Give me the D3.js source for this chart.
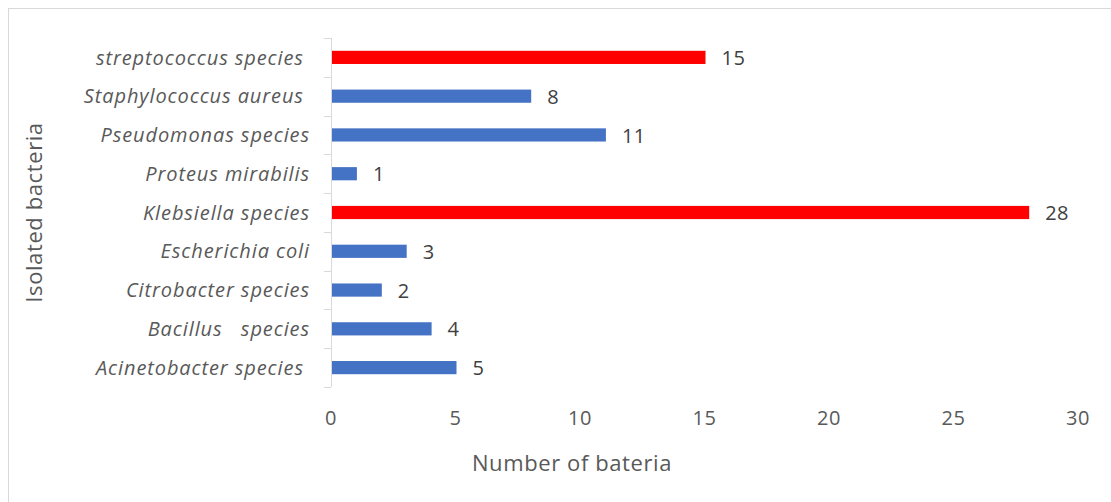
<!DOCTYPE html>
<html>
<head>
<meta charset="utf-8">
<script src="https://cdn.jsdelivr.net/npm/d3@7"></script>
<style>
  body { margin: 0; background: #fff; }
  text { font-family: "Open Sans", "Noto Sans", sans-serif; white-space: pre; }
</style>
</head>
<body>
<div id="chart"></div>
<script>
// chart size, same as the window
const width = 1111;
const height = 502;
const margin = {left: 331, right: 33, top: 38, bottom: 115};

// data (top to bottom)
const categories = [
  "streptococcus species ",
  "Staphylococcus aureus ",
  "Pseudomonas species",
  "Proteus mirabilis",
  "Klebsiella species",
  "Escherichia coli",
  "Citrobacter species",
  "Bacillus   species",
  "Acinetobacter species "
];
const counts = [15, 8, 11, 1, 28, 3, 2, 4, 5];
const highlighted = ["streptococcus species ", "Klebsiella species"];
const xTicks = [0, 5, 10, 15, 20, 25, 30];

const data = categories.map((c, i) => ({name: c, value: counts[i]}));

const svg = d3.select("#chart")
  .append("svg")
  .attr("width", width)
  .attr("height", height);

// outer chart border (right and bottom edges fall outside the picture)
svg.append("rect")
  .attr("x", 8.5).attr("y", 8.5)
  .attr("width", width + 20).attr("height", height + 20)
  .attr("fill", "none")
  .attr("stroke", "#d9d9d9");

let xScale = d3.scaleLinear()
  .domain([0, 30])
  .range([margin.left, width - margin.right]);

let yScale = d3.scaleBand()
  .domain(categories)
  .range([margin.top, height - margin.bottom])
  .paddingInner(0.66)
  .paddingOuter(0.33);

// y axis line and boundary ticks
const y0 = margin.top, y1 = height - margin.bottom;
svg.append("line")
  .attr("x1", margin.left + 0.5).attr("x2", margin.left + 0.5)
  .attr("y1", y0).attr("y2", y1)
  .attr("stroke", "#d9d9d9");
svg.selectAll(".ytick")
  .data(d3.range(categories.length + 1))
  .enter()
  .append("line")
    .attr("x1", margin.left - 7).attr("x2", margin.left)
    .attr("y1", i => Math.round(y0 + i * (y1 - y0) / categories.length) + 0.5)
    .attr("y2", i => Math.round(y0 + i * (y1 - y0) / categories.length) + 0.5)
    .attr("stroke", "#d9d9d9");

// category labels
svg.selectAll(".ylabel")
  .data(categories)
  .enter()
  .append("text")
    .attr("x", margin.left - 21)
    .attr("y", d => yScale(d) + yScale.bandwidth() / 2)
    .attr("dy", "0.36em")
    .attr("text-anchor", "end")
    .attr("font-style", "italic")
    .attr("font-size", "20px")
    .attr("letter-spacing", "0.9px")
    .attr("fill", "#595959")
    .text(d => d);

// x tick labels (no axis line in the original)
svg.selectAll(".xlabel")
  .data(xTicks)
  .enter()
  .append("text")
    .attr("x", d => xScale(d))
    .attr("y", 425)
    .attr("text-anchor", "middle")
    .attr("font-size", "20px")
    .attr("letter-spacing", "0.5px")
    .attr("fill", "#595959")
    .text(d => d);

// bars
svg.selectAll(".bar")
  .data(data)
  .enter()
  .append("rect")
    .attr("x", xScale(0) + 1)
    .attr("y", d => yScale(d.name))
    .attr("width", d => xScale(d.value) - xScale(0))
    .attr("height", yScale.bandwidth())
    .attr("fill", d => highlighted.includes(d.name) ? "#ff0000" : "#4472c4");

// value labels
svg.selectAll(".val")
  .data(data)
  .enter()
  .append("text")
    .attr("x", d => xScale(d.value) + 17)
    .attr("y", d => yScale(d.name) + yScale.bandwidth() / 2)
    .attr("dy", "0.38em")
    .attr("font-size", "20px")
    .attr("letter-spacing", "0.5px")
    .attr("fill", "#404040")
    .text(d => d.value);

// axis titles
svg.append("text")
  .attr("x", 572).attr("y", 471)
  .attr("text-anchor", "middle")
  .attr("font-size", "22px")
  .attr("letter-spacing", "0.6px")
  .attr("fill", "#595959")
  .text("Number of bateria");

svg.append("text")
  .attr("transform", "translate(42," + ((y0 + y1) / 2) + ") rotate(-90)")
  .attr("text-anchor", "middle")
  .attr("font-size", "22px")
  .attr("letter-spacing", "0.6px")
  .attr("fill", "#595959")
  .text("Isolated bacteria");
</script>
</body>
</html>
